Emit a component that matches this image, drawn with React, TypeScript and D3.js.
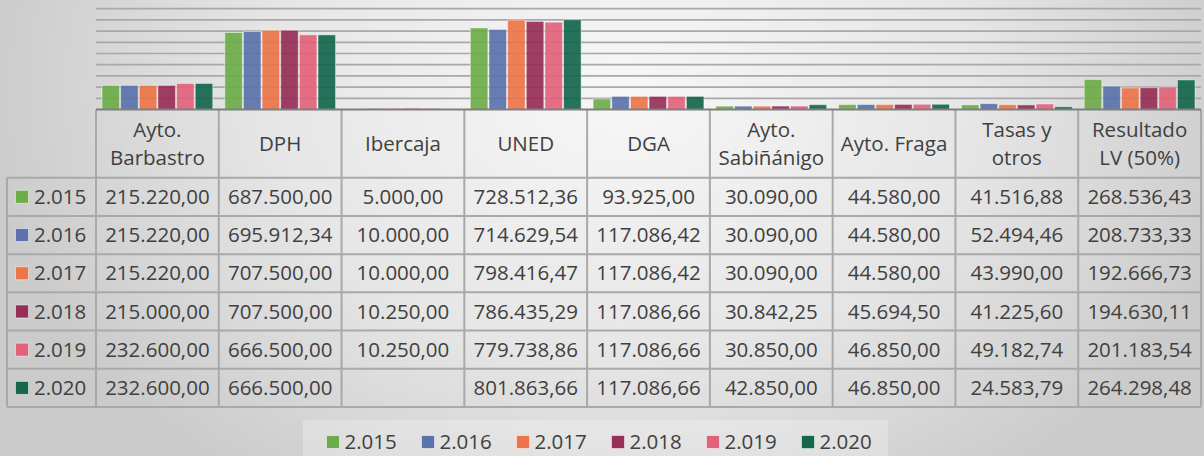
import React from "react";
import * as d3 from "d3";

// categories (the \n marks the line break in the table header)
const categories = [
  "Ayto.\nBarbastro",
  "DPH",
  "Ibercaja",
  "UNED",
  "DGA",
  "Ayto.\nSabiñánigo",
  "Ayto. Fraga",
  "Tasas y\notros",
  "Resultado\nLV (50%)",
];

const years = [2015, 2016, 2017, 2018, 2019, 2020];

const v2015 = [215220, 687500, 5000, 728512.36, 93925, 30090, 44580, 41516.88, 268536.43];
const v2016 = [215220, 695912.34, 10000, 714629.54, 117086.42, 30090, 44580, 52494.46, 208733.33];
const v2017 = [215220, 707500, 10000, 798416.47, 117086.42, 30090, 44580, 43990, 192666.73];
const v2018 = [215000, 707500, 10250, 786435.29, 117086.66, 30842.25, 45694.5, 41225.6, 194630.11];
const v2019 = [232600, 666500, 10250, 779738.86, 117086.66, 30850, 46850, 49182.74, 201183.54];
const v2020 = [232600, 666500, null, 801863.66, 117086.66, 42850, 46850, 24583.79, 264298.48];

const colors = ["#6dad49", "#5b72ab", "#ec7549", "#972f56", "#e2627a", "#15664c"];

const series = [v2015, v2016, v2017, v2018, v2019, v2020];

const W = 1204;
const H = 456;

const es = d3.formatLocale({
  decimal: ",",
  thousands: ".",
  grouping: [3],
  currency: ["", " €"],
});
const fmtVal = es.format(",.2f");
const fmtYear = es.format(",");

const font = "'Open Sans', sans-serif";
const textColor = "#404040";
const lineColor = "#a9a9a9";
const fs = 20.5;

export default function App() {
  const x = d3.scaleBand<string>().domain(categories).range([96, 1201]).padding(0);
  const xYear = d3
    .scaleBand<number>()
    .domain(years)
    .range([6, x.step() - 6])
    .paddingInner(0.06);
  const y = d3.scaleLinear().domain([0, 1000000]).range([109.5, -2.5]);
  const row = d3.scaleBand<number>().domain(years).range([177.7, 407]);
  const headerTop = 110;
  const headerBottom = 177.7;
  const tableLeft = 7;

  const gridTicks = y.ticks(10).filter((t) => t > 0);

  return (
    <svg
      width={W}
      height={H}
      style={{ position: "absolute", left: 0, top: 0 }}
      fontFamily={font}
    >
      <defs>
        <radialGradient
          id="bg"
          gradientUnits="userSpaceOnUse"
          cx={620}
          cy={90}
          r={640}
          gradientTransform="translate(620,90) scale(1,0.75) translate(-620,-90)"
        >
          <stop offset="0" stopColor="#f7f7f7" />
          <stop offset="0.55" stopColor="#e6e6e6" />
          <stop offset="1" stopColor="#cbcbcb" />
        </radialGradient>
      </defs>
      <rect width={W} height={H} fill="url(#bg)" />

      {/* gridlines */}
      {gridTicks.map((t) => (
        <line
          key={t}
          x1={x.range()[0]}
          x2={x.range()[1]}
          y1={y(t)}
          y2={y(t)}
          stroke="#a8a8a8"
          strokeWidth={1.7}
        />
      ))}

      {/* bars */}
      {categories.map((c, ci) => (
        <g key={c} transform={`translate(${x(c)},0)`}>
          {series.map((s, si) =>
            s[ci] == null ? null : (
              <rect
                key={si}
                x={xYear(years[si])}
                y={y(s[ci] as number)}
                width={xYear.bandwidth()}
                height={y(0) - y(s[ci] as number)}
                fill={colors[si]}
                fillOpacity={0.92}
                stroke="#ffffff"
                strokeOpacity={0.45}
                strokeWidth={1}
              />
            )
          )}
        </g>
      ))}

      {/* table grid */}
      <g stroke={lineColor} strokeWidth={2} fill="none">
        {categories.map((c) => (
          <line key={c} x1={x(c)} x2={x(c)} y1={headerTop} y2={row.range()[1]} />
        ))}
        <line x1={x.range()[1]} x2={x.range()[1]} y1={headerTop} y2={row.range()[1]} />
        <line x1={tableLeft} x2={tableLeft} y1={headerBottom} y2={row.range()[1]} />
        {years.map((yr) => (
          <line
            key={yr}
            x1={tableLeft}
            x2={x.range()[1]}
            y1={row(yr)}
            y2={row(yr)}
          />
        ))}
        <line
          x1={tableLeft}
          x2={x.range()[1]}
          y1={row.range()[1]}
          y2={row.range()[1]}
        />
      </g>

      {/* baseline */}
      <line
        x1={x.range()[0]}
        x2={x.range()[1]}
        y1={y(0)}
        y2={y(0)}
        stroke="#7f7f7f"
        strokeWidth={2.2}
      />

      {/* header labels */}
      {categories.map((c) => {
        const lines = c.split("\n");
        const cx = (x(c) as number) + x.bandwidth() / 2;
        const cy = (headerTop + headerBottom) / 2;
        const lh = 28;
        return (
          <text key={c} x={cx} textAnchor="middle" fontSize={fs} fill={textColor}>
            {lines.map((l, i) => (
              <tspan
                key={i}
                x={cx}
                y={cy + (i - (lines.length - 1) / 2) * lh}
                dy="0.35em"
              >
                {l}
              </tspan>
            ))}
          </text>
        );
      })}

      {/* rows */}
      {years.map((yr, si) => {
        const cy = (row(yr) as number) + row.bandwidth() / 2;
        return (
          <g key={yr}>
            <rect
              x={15.5}
              y={cy - 6.5}
              width={13}
              height={13}
              fill={colors[si]}
              stroke="#ffffff"
              strokeOpacity={0.5}
            />
            <text x={34} y={cy} dy="0.35em" fontSize={fs} fill={textColor}>
              {fmtYear(yr)}
            </text>
            {categories.map((c, ci) => {
              const v = series[si][ci];
              return v == null ? null : (
                <text
                  key={c}
                  x={(x(c) as number) + x.bandwidth() / 2}
                  y={cy}
                  dy="0.35em"
                  textAnchor="middle"
                  fontSize={fs}
                  fill={textColor}
                >
                  {fmtVal(v)}
                </text>
              );
            })}
          </g>
        );
      })}

      {/* legend */}
      <rect x={303} y={420} width={585} height={40} fill="#ffffff" fillOpacity={0.25} />
      {years.map((yr, si) => {
        const lx = 326.5 + si * 95;
        const ly = 442;
        return (
          <g key={yr}>
            <rect
              x={lx}
              y={ly - 6.5}
              width={13}
              height={13}
              fill={colors[si]}
              stroke="#ffffff"
              strokeOpacity={0.5}
            />
            <text x={lx + 18} y={ly} dy="0.35em" fontSize={fs} fill={textColor}>
              {fmtYear(yr)}
            </text>
          </g>
        );
      })}
    </svg>
  );
}
